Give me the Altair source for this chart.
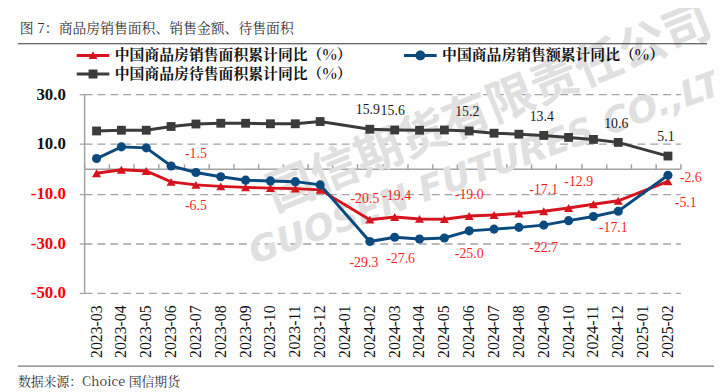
import json
import altair as alt
import pandas as pd

months = ["2023-03", "2023-04", "2023-05", "2023-06", "2023-07", "2023-08", "2023-09",
          "2023-10", "2023-11", "2023-12", "2024-01", "2024-02", "2024-03", "2024-04",
          "2024-05", "2024-06", "2024-07", "2024-08", "2024-09", "2024-10", "2024-11",
          "2024-12", "2025-01", "2025-02"]

S_AREA = "中国商品房销售面积累计同比（%）"
S_AMT = "中国商品房销售额累计同比（%）"
S_STOCK = "中国商品房待售面积累计同比（%）"

area = [-1.8, -0.4, -0.9, -5.3, -6.5, -7.1, -7.5, -7.8, -8.0, -8.5, None, -20.5, -19.4,
        -20.2, -20.3, -19.0, -18.6, -18.0, -17.1, -15.8, -14.3, -12.9, None, -5.1]
amount = [4.1, 8.8, 8.4, 1.1, -1.5, -3.2, -4.6, -4.9, -5.2, -6.5, None, -29.3, -27.6,
          -28.3, -27.9, -25.0, -24.3, -23.6, -22.7, -20.9, -19.2, -17.1, None, -2.6]
stock = [15.2, 15.5, 15.5, 17.0, 18.0, 18.3, 18.3, 18.1, 18.1, 19.0, None, 15.9, 15.6,
         15.5, 15.6, 15.2, 14.3, 13.9, 13.4, 12.6, 11.8, 10.6, None, 5.1]

# which points carry a value label
lab_stock_above = ["2024-02", "2024-03", "2024-06", "2024-09", "2024-12", "2025-02"]
lab_area_above_l = ["2024-02"]
lab_area_above_r = ["2024-03"]
lab_area_above = ["2024-06", "2024-09"]
lab_area_below = ["2023-07"]
lab_area_upleft = ["2024-12"]
lab_area_downright = ["2025-02"]
lab_amt_above = ["2023-07"]
lab_amt_below_l = ["2024-02"]
lab_amt_below_r = ["2024-03"]
lab_amt_below = ["2024-06", "2024-09"]
lab_amt_below2 = ["2024-12"]
lab_amt_right = ["2025-02"]

title_text = "图 7：商品房销售面积、销售金额、待售面积"
source_text = "数据来源：Choice  国信期货"

SERIF = "Liberation Serif"
CJK = "Noto Serif CJK SC"

RED = "#d7141e"
BLUE = "#0b4a7e"
BLACK = "#3b3b3b"
LABEL_RED = "#ff1f1f"
GRAY = "#a3a3a3"

rows = []
for name, vals in [(S_AREA, area), (S_AMT, amount), (S_STOCK, stock)]:
    for m, v in zip(months, vals):
        if v is not None:
            rows.append({"series": name, "month": m, "value": v, "label": f"{v:.1f}"})
df = pd.DataFrame(rows)

x_scale = alt.Scale(type="band", domain=months, paddingInner=0, paddingOuter=0)
y_scale = alt.Scale(domain=[-50, 30])

base = alt.Chart(df)


def xenc(axis=None):
    return alt.X("month:N", scale=x_scale, axis=axis, title=None)


def yenc(axis=None):
    return alt.Y("value:Q", scale=y_scale, axis=axis, title=None)


y_axis = alt.Axis(values=[-50, -30, -10, 10, 30], grid=True, gridDash=[8, 5], gridColor=GRAY,
                  gridWidth=1.3, domain=True, domainColor=GRAY, domainWidth=1.5,
                  ticks=True, tickSize=5, tickColor=GRAY, tickWidth=1.3,
                  labelFont=SERIF, labelFontSize=17, labelFontWeight="bold",
                  labelPadding=14,
                  labelExpr="datum.value < 0 ? '-' + format(-datum.value, '.1f') : format(datum.value, '.1f')",
                  labelColor={"condition": {"test": "datum.value < 0", "value": "#ff0000"},
                              "value": "#111111"})

x_axis_bottom = alt.Axis(orient="bottom", labelAngle=270, labelFont=SERIF,
                         labelFontSize=16, labelColor="#111111", domain=False, ticks=False,
                         grid=False, labelPadding=12)

x_axis_zero = alt.Axis(orient="top", offset=-75.4, labels=False, ticks=True, tickBand="extent",
                       tickSize=5, tickColor=GRAY, tickWidth=1.5, domain=True,
                       domainColor=GRAY, domainWidth=1.5, grid=False)

# watermark
wm1 = alt.Chart(pd.DataFrame({"t": ["国信期货有限责任公司"]})).mark_text(
    angle=338, font="Noto Sans CJK SC", fontSize=48, fontWeight="bold", color="#e0e0e0",
    align="center", baseline="middle").encode(x=alt.value(410), y=alt.value(16), text="t:N")
wm2 = alt.Chart(pd.DataFrame({"t": ["GUOSEN FUTURES CO.,LTD"]})).mark_text(
    angle=340, font="DejaVu Sans", fontSize=36, fontWeight="bold", fontStyle="italic",
    color="#e0e0e0", align="center", baseline="middle").encode(
    x=alt.value(420), y=alt.value(70), text="t:N")

# axes layers (y axis with grid, zero-line axis, bottom labels)
axis_y = base.mark_point(opacity=0).encode(x=xenc(x_axis_bottom), y=yenc(y_axis))
axis_zero = base.mark_point(opacity=0).encode(x=xenc(x_axis_zero), y=yenc())

layers = [wm1, wm2, axis_y, axis_zero]

for name, color, shape, size in [(S_STOCK, BLACK, "square", 80),
                                 (S_AREA, RED, "triangle-up", 85),
                                 (S_AMT, BLUE, "circle", 85)]:
    sub = base.transform_filter(alt.datum.series == name)
    layers.append(sub.mark_line(color=color, strokeWidth=3).encode(x=xenc(), y=yenc()))
    layers.append(sub.mark_point(shape=shape, filled=True, size=size, opacity=1, color=color)
                  .encode(x=xenc(), y=yenc()))


def labels(series, months_sel, dx, dy, color, align="center"):
    expr = (f"datum.series === {json.dumps(series, ensure_ascii=False)} && "
            f"indexof({json.dumps(months_sel)}, datum.month) >= 0")
    return base.transform_filter(expr).mark_text(
        font=SERIF, fontSize=14, color=color, dx=dx, dy=dy, align=align,
        baseline="middle").encode(x=xenc(), y=yenc(), text="label:N")


layers += [
    labels(S_STOCK, lab_stock_above, -2, -19, "#1a1a1a"),
    labels(S_AREA, lab_area_above_l, -5, -21, LABEL_RED),
    labels(S_AREA, lab_area_above_r, 2, -21, LABEL_RED),
    labels(S_AREA, lab_area_above, 0, -21, LABEL_RED),
    labels(S_AREA, lab_area_below, 0, 21, LABEL_RED),
    labels(S_AREA, lab_area_upleft, -40, -19, LABEL_RED),
    labels(S_AREA, lab_area_downright, 18, 22, LABEL_RED),
    labels(S_AMT, lab_amt_above, 0, -19, LABEL_RED),
    labels(S_AMT, lab_amt_below_l, -6, 22, LABEL_RED),
    labels(S_AMT, lab_amt_below_r, 6, 22, LABEL_RED),
    labels(S_AMT, lab_amt_below, 0, 23, LABEL_RED),
    labels(S_AMT, lab_amt_below2, -5, 17, LABEL_RED),
    labels(S_AMT, lab_amt_right, 12, 3, LABEL_RED, align="left"),
]

# legend (custom symbols: line + marker); entries fill column by column
LINE = "M-3.3,-0.3H3.3V0.3H-3.3Z "
sym_tri = LINE + "M-0.9,0.75L0,-0.85L0.9,0.75Z"
sym_circ = LINE + "M-1,0A1,1,0,1,1,1,0A1,1,0,1,1,-1,0Z"
sym_sq = LINE + "M-0.9,-0.9H0.9V0.9H-0.9Z"

leg_domain = [S_AREA, S_STOCK, S_AMT]
leg = alt.Legend(orient="none", legendX=1.5, legendY=-47, columns=2, columnPadding=50,
                 rowPadding=3, labelFont=CJK, labelFontSize=15,
                 labelFontWeight="bold", labelColor="#111111", labelOffset=14.5,
                 symbolSize=100, symbolOpacity=1, labelLimit=400, padding=0)
legend_layer = base.transform_filter("false").mark_point(filled=True, opacity=1).encode(
    x=xenc(), y=yenc(),
    color=alt.Color("series:N", title=None, legend=leg,
                    scale=alt.Scale(domain=leg_domain, range=[RED, BLACK, BLUE])),
    shape=alt.Shape("series:N", title=None, legend=leg,
                    scale=alt.Scale(domain=leg_domain, range=[sym_tri, sym_sq, sym_circ])),
)
layers.append(legend_layer)

# title, source, separator lines
title = alt.Chart(pd.DataFrame({"t": [title_text]})).mark_text(
    align="left", baseline="middle", font=CJK, fontSize=14, color="#333333"
).encode(x=alt.value(-65), y=alt.value(-66), text="t:N")
source = alt.Chart(pd.DataFrame({"t": [source_text]})).mark_text(
    align="left", baseline="middle", font=CJK, fontSize=13, color="#333333"
).encode(x=alt.value(-67), y=alt.value(291), text="t:N")
line_top = alt.Chart(pd.DataFrame({"a": [0]})).mark_rule(color="#333333", strokeWidth=1).encode(
    x=alt.value(-67), x2=alt.value(630), y=alt.value(-51))
line_bot = alt.Chart(pd.DataFrame({"a": [0]})).mark_rule(color="#777777", strokeWidth=1.5).encode(
    x=alt.value(-67), x2=alt.value(640), y=alt.value(275))
layers += [title, source, line_top, line_bot]

chart = alt.layer(*layers).resolve_axis(x="independent", y="independent").properties(
    width=603, height=201,
    autosize=alt.AutoSizeParams(type="none"),
    padding={"left": 77, "top": 85, "right": 34, "bottom": 99},
).configure_view(stroke=None)

chart.save("out.html", embed_options={"renderer": "svg", "actions": False})
